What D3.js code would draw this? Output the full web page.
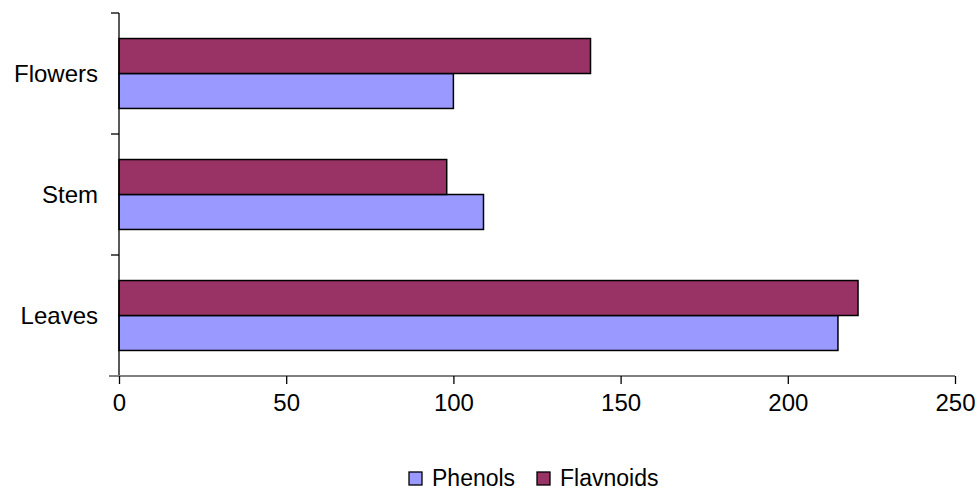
<!DOCTYPE html>
<meta charset="utf-8">
<style>
body { margin: 0; background: #fff; }
text { font-family: "Liberation Sans", Arial, sans-serif; fill: #000; }
.bar { stroke: #000; stroke-width: 1.5px; }
</style>
<body>
<script src="https://d3js.org/d3.v7.min.js"></script>
<script>

// data
var categories = ["Flowers", "Stem", "Leaves"];
var seriesNames = ["Phenols", "Flavnoids"];
var phenols = [100, 109, 215];
var flavnoids = [141, 98, 221];
var xTicks = [0, 50, 100, 150, 200, 250];
var colors = {Phenols: "#9999ff", Flavnoids: "#993366"};

var W = 978, H = 492;
var margin = {top: 13, right: 23, bottom: 116, left: 119},
    width = W - margin.left - margin.right,
    height = H - margin.top - margin.bottom;

var svg = d3.select("body").append("svg")
    .attr("width", W)
    .attr("height", H)
  .append("g")
    .attr("transform", "translate(" + margin.left + "," + margin.top + ")");

var x = d3.scaleLinear().domain([0, 250]).range([0, width]);
var y = d3.scaleBand().domain(categories).range([0, height]);
// flavnoids drawn on top inside each group
var y1 = d3.scaleBand().domain(["Flavnoids", "Phenols"])
    .range([0, y.bandwidth()]).paddingOuter(0.73);

var rows = categories.map(function(c, i) {
  return {cat: c, Phenols: phenols[i], Flavnoids: flavnoids[i]};
});

var groups = svg.selectAll(".grp")
    .data(rows)
  .enter().append("g")
    .attr("transform", function(d) { return "translate(0," + y(d.cat) + ")"; });

groups.selectAll("rect")
    .data(function(d) { return seriesNames.map(function(s) { return {key: s, value: d[s]}; }); })
  .enter().append("rect")
    .attr("class", "bar")
    .attr("x", x(0))
    .attr("y", function(d) { return y1(d.key); })
    .attr("width", function(d) { return x(d.value) - x(0); })
    .attr("height", y1.bandwidth())
    .style("fill", function(d) { return colors[d.key]; });

// y axis (category boundaries as ticks)
var yAxisG = svg.append("g");
yAxisG.append("line")
    .attr("x1", 0).attr("x2", 0)
    .attr("y1", 0).attr("y2", height)
    .attr("stroke", "#000").attr("stroke-width", 1.3);
yAxisG.selectAll(".yt")
    .data(categories.concat(["end"]))
  .enter().append("line")
    .attr("x1", -8).attr("x2", 0)
    .attr("y1", function(d, i) { return i * y.step(); })
    .attr("y2", function(d, i) { return i * y.step(); })
    .attr("stroke", "#000").attr("stroke-width", 1.3);
yAxisG.selectAll(".yl")
    .data(categories)
  .enter().append("text")
    .attr("x", -21)
    .attr("y", function(d) { return y(d) + y.bandwidth() / 2; })
    .attr("dy", "0.35em")
    .attr("text-anchor", "end")
    .style("font-size", "24px")
    .text(function(d) { return d; });

// x axis
var xAxis = svg.append("g")
    .attr("transform", "translate(0," + height + ")")
    .call(d3.axisBottom(x).tickValues(xTicks).tickSize(8).tickSizeOuter(0).tickPadding(10));
xAxis.select(".domain").attr("stroke", "#808080").attr("stroke-width", 2)
    .attr("d", "M-10,0H" + width);
xAxis.selectAll(".tick line").attr("stroke", "#000").attr("stroke-width", 1.3);
xAxis.selectAll(".tick text")
    .style("font-size", "24px")
    .style("font-family", "'Liberation Sans', Arial, sans-serif");

// legend
var legend = svg.append("g")
    .attr("transform", "translate(" + (409 - margin.left) + "," + (472 - margin.top) + ")");
var legendX = [0, 128];
seriesNames.forEach(function(s, i) {
  legend.append("rect")
      .attr("x", legendX[i]).attr("y", 0)
      .attr("width", 13).attr("height", 13)
      .attr("fill", colors[s])
      .attr("stroke", "#000").attr("stroke-width", 1.3);
  legend.append("text")
      .attr("x", legendX[i] + 23)
      .attr("y", 6)
      .attr("dy", "0.35em")
      .style("font-size", "23px")
      .text(s);
});

</script>
</body>
